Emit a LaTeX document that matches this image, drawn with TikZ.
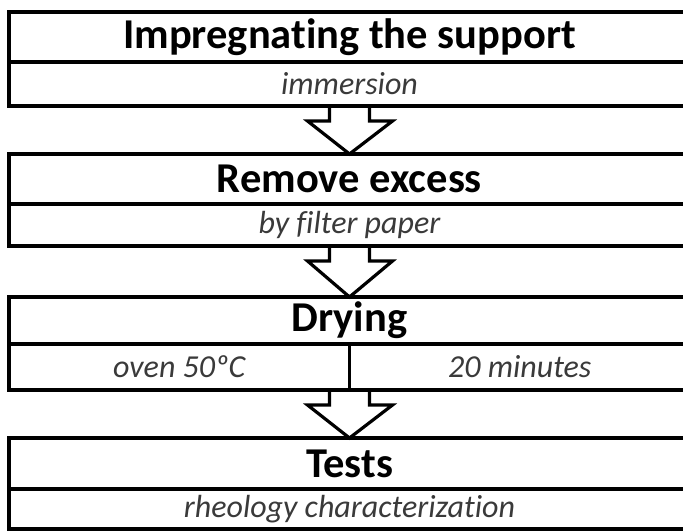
\documentclass[tikz,border=0pt]{standalone}
\usepackage{fontspec}
\setmainfont{Carlito}[RawFeature={-liga}]
\usetikzlibrary{calc}
\definecolor{subgray}{HTML}{3A3A3A}
\begin{document}
\begin{tikzpicture}[x=1pt,y=1pt,
  boxline/.style={line width=3.6pt},
  titlebox/.style={draw, boxline, rectangle, anchor=north west, minimum width=681pt, inner sep=0pt, outer sep=0pt, font=\fontsize{42.5}{46}\selectfont\bfseries, text=black},
  subbox/.style={draw, boxline, rectangle, anchor=north west, minimum width=681pt, inner sep=0pt, outer sep=0pt, font=\fontsize{32}{36}\selectfont\itshape, text=subgray},
  halfbox/.style={subbox, minimum width=340.5pt},
  flowarrow/.style={draw, line width=3.2pt, line join=miter}]
\useasboundingbox (0,0) rectangle (683,-532);
\fill[white] (0,0) rectangle (683,-532);
\clip (0,0) rectangle (683,-532);
% box 1
\node[titlebox, minimum height=50pt] (t1) at (9,-12) {Impregnating the support};
\node[subbox, minimum height=44pt] (s1) at (t1.south west) {immersion};
% box 2
\node[titlebox, minimum height=50pt] (t2) at (9,-154) {Remove excess};
\node[subbox, minimum height=42pt] (s2) at (t2.south west) {by filter paper};
% box 3
\node[titlebox, minimum height=47pt] (t3) at (9,-297) {Drying};
\node[halfbox, minimum height=46pt] (s3a) at (t3.south west) {oven 50ºC};
\node[halfbox, minimum height=46pt] (s3b) at (s3a.north east) {20 minutes};
\coordinate (s3) at (s3a.south east);
% box 4
\node[titlebox, minimum height=51pt] (t4) at (9,-438) {Tests};
\node[subbox, minimum height=40pt] (s4) at (t4.south west) {rheology characterization};
% arrows
\path[flowarrow] ($(s1.south)+(-20,0)$) |- ($(s1.south)+(-42,-15)$) -- (t2.north) -- ($(s1.south)+(43,-15)$) -| ($(s1.south)+(20,0)$);
\path[flowarrow] ($(s2.south)+(-20,0)$) |- ($(s2.south)+(-42,-15)$) -- (t3.north) -- ($(s2.south)+(43,-15)$) -| ($(s2.south)+(20,0)$);
\path[flowarrow] ($(s3)+(-20,0)$) |- ($(s3)+(-42,-15)$) -- (t4.north) -- ($(s3)+(43,-15)$) -| ($(s3)+(20,0)$);
\end{tikzpicture}
\end{document}
